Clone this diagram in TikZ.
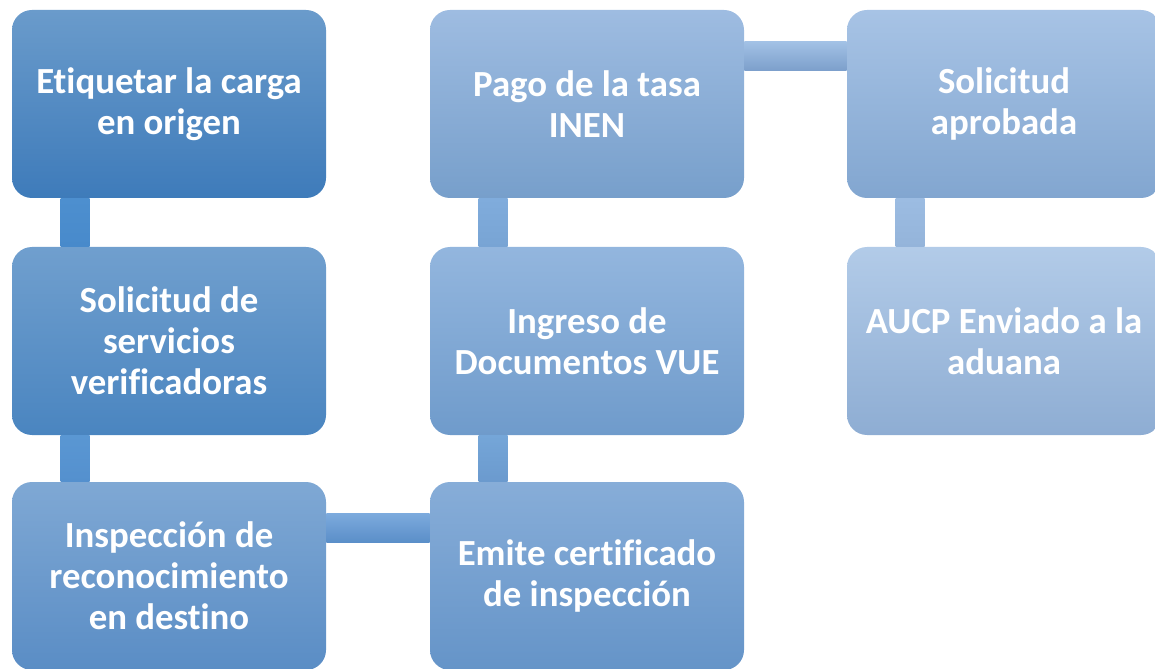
\documentclass[tikz,border=0pt]{standalone}
\usepackage{fontspec}
\setmainfont{Carlito}[Ligatures={CommonOff,ContextualOff}]
\usepackage{tikz}

% box shades, top and bottom
\definecolor{etiqTop}{HTML}{6A9BCB}\definecolor{etiqBot}{HTML}{3E7BBA}
\definecolor{solicTop}{HTML}{709FCE}\definecolor{solicBot}{HTML}{4A85C0}
\definecolor{inspTop}{HTML}{7FA8D4}\definecolor{inspBot}{HTML}{5A8DC5}
\definecolor{emiteTop}{HTML}{87ADD8}\definecolor{emiteBot}{HTML}{6594C8}
\definecolor{ingTop}{HTML}{93B6DE}\definecolor{ingBot}{HTML}{6F9BCB}
\definecolor{pagoTop}{HTML}{9EBCE1}\definecolor{pagoBot}{HTML}{779FCB}
\definecolor{aprobTop}{HTML}{A7C3E5}\definecolor{aprobBot}{HTML}{82A6D0}
\definecolor{aucpTop}{HTML}{B2CBE8}\definecolor{aucpBot}{HTML}{8EADD3}

\begin{document}
\begin{tikzpicture}[x=0.75pt,y=0.75pt,
  paso/.style={rounded corners=15pt,minimum width=235.5pt,minimum height=141pt,
    inner sep=0pt,align=center,text=white,
    font=\bfseries\fontsize{27.6}{30.75}\selectfont}]
  \useasboundingbox (0,0) rectangle (1155,668);
  \clip (0,0) rectangle (1155,668);

  % first column
  \node[paso,top color=etiqTop,bottom color=etiqBot] (etiq) at (169,564) {Et{}iquetar la carga\\en origen};
  \node[paso,top color=solicTop,bottom color=solicBot] (solic) at (169,327) {Solicitud de\\servicios\\verificadoras};
  \node[paso,top color=inspTop,bottom color=inspBot] (insp) at (169,92) {Inspección de\\reconocimiento\\en destino};

  % second column
  \node[paso,top color=emiteTop,bottom color=emiteBot] (emite) at (587,92) {Emite certif{}icado\\de inspección};
  \node[paso,top color=ingTop,bottom color=ingBot] (ingreso) at (587,327) {Ingreso de\\Documentos VUE};
  \node[paso,top color=pagoTop,bottom color=pagoBot] (pago) at (587,564) {Pago de la tasa\\INEN};

  % third column
  \node[paso,top color=aprobTop,bottom color=aprobBot] (aprob) at (1004,564) {Solicitud\\aprobada};
  \node[paso,top color=aucpTop,bottom color=aucpBot] (aucp) at (1004,327) {AUCP Enviado a la\\aduana};

  % bars between the steps
  \shade[top color={rgb,255:red,77;green,143;blue,207},bottom color={rgb,255:red,72;green,138;blue,203}]
    ([xshift=36.75pt]etiq.south west) rectangle ([xshift=58.5pt]solic.north west);
  \shade[top color={rgb,255:red,90;green,151;blue,211},bottom color={rgb,255:red,84;green,144;blue,206}]
    ([xshift=36.75pt]solic.south west) rectangle ([xshift=58.5pt]insp.north west);
  \shade[top color={rgb,255:red,124;green,170;blue,221},bottom color={rgb,255:red,90;green,142;blue,200}]
    ([yshift=-24pt]insp.north east) rectangle ([yshift=-45.75pt]emite.north west);
  \shade[top color={rgb,255:red,117;green,166;blue,216},bottom color={rgb,255:red,107;green,154;blue,206}]
    ([xshift=36.75pt]ingreso.south west) rectangle ([xshift=58.5pt]emite.north west);
  \shade[top color={rgb,255:red,128;green,172;blue,220},bottom color={rgb,255:red,120;green,164;blue,212}]
    ([xshift=36.75pt]pago.south west) rectangle ([xshift=58.5pt]ingreso.north west);
  \shade[top color={rgb,255:red,162;green,193;blue,229},bottom color={rgb,255:red,124;green,159;blue,203}]
    ([yshift=-24pt]pago.north east) rectangle ([yshift=-45.75pt]aprob.north west);
  \shade[top color={rgb,255:red,156;green,188;blue,226},bottom color={rgb,255:red,148;green,180;blue,218}]
    ([xshift=36.75pt]aprob.south west) rectangle ([xshift=58.5pt]aucp.north west);
\end{tikzpicture}
\end{document}
